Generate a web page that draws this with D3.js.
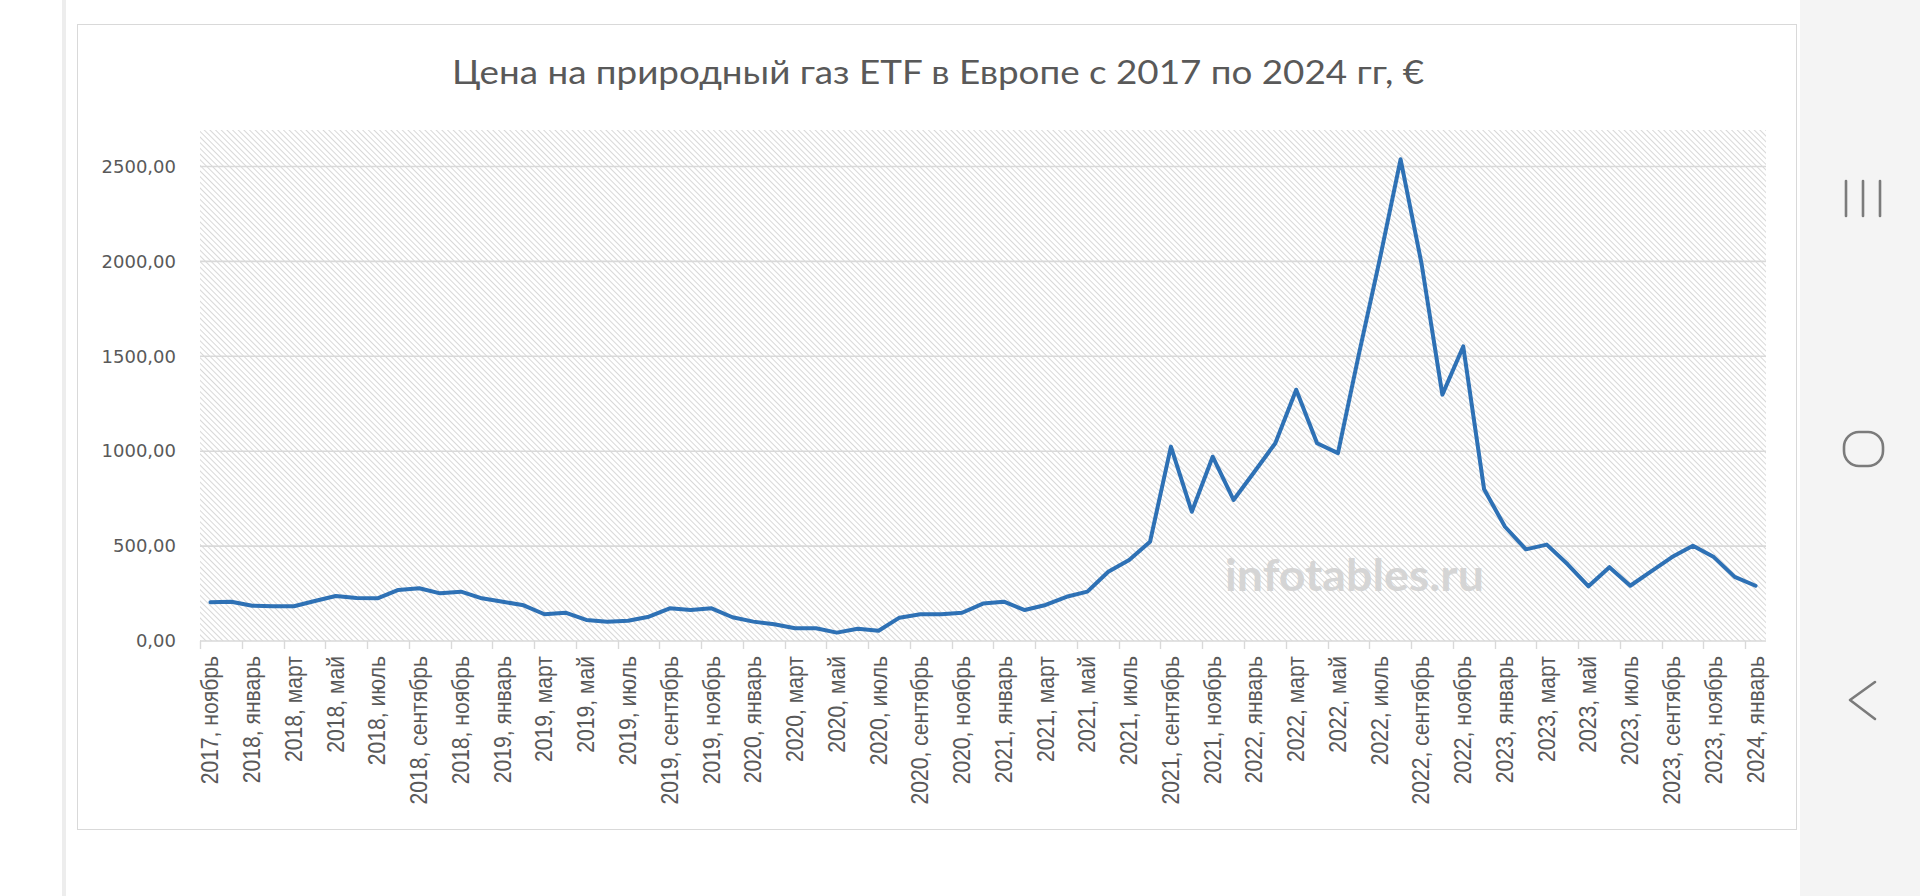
<!DOCTYPE html>
<html>
<head>
    <meta charset='utf-8' />
    <title>Цена на природный газ ETF</title>
    <style>
  body {
    margin: 0;
    background: #fff;
  }
  svg text {
    pointer-events: none;
  }
</style>
</head>
<body>
  <div id="wrapper"></div>

<script src='https://d3js.org/d3.v7.min.js' charset='utf-8'></script>
<script>
  // monthly price, Nov 2017 .. Jan 2024
  const monthNames = ['январь', 'февраль', 'март', 'апрель', 'май', 'июнь',
                      'июль', 'август', 'сентябрь', 'октябрь', 'ноябрь', 'декабрь']
  const startYear = 2017
  const startMonth = 10   // ноябрь
  const prices = [
    204, 207,
    186, 183, 183, 211, 237, 226, 225, 269, 278, 251, 260, 225,
    207, 188, 141, 149, 111, 102, 107, 128, 172, 163, 172, 125,
    102, 88, 67, 67, 44, 65, 54, 123, 141, 141, 149, 197,
    207, 163, 190, 233, 260, 365, 427, 523, 1024, 681, 971, 743,
    892, 1042, 1324, 1042, 990, 1510, 2010, 2538, 1990, 1298, 1552, 799,
    602, 483, 508, 404, 288, 389, 291, 367, 442, 502, 442, 338,
    291
  ]
  const yTicks = [0, 500, 1000, 1500, 2000, 2500]
  const labelStep = 2

  const categories = prices.map((d, i) => {
    const m = startMonth + i
    return (startYear + Math.floor(m / 12)) + ', ' + monthNames[m % 12]
  })
  const data = prices.map((v, i) => ({ cat: categories[i], value: v }))

  const width = 1920
  const height = 896
  const plot = { left: 200, right: 1766, top: 130, bottom: 641 }

  const svg = d3.select('#wrapper')
      .append('svg')
        .attr('width', width)
        .attr('height', height)

  // page frame (screenshot surroundings)
  svg.append('rect')
      .attr('x', 0).attr('y', 0)
      .attr('width', width).attr('height', height)
      .attr('fill', '#fff')
  svg.append('rect')
      .attr('x', 62).attr('y', 0)
      .attr('width', 4).attr('height', height)
      .attr('fill', '#ededed')
  svg.append('rect')
      .attr('x', 1800).attr('y', 0)
      .attr('width', 120).attr('height', height)
      .attr('fill', '#f4f4f4')

  const nav = svg.append('g')
      .attr('fill', 'none')
      .attr('stroke', '#7b7b7b')
      .attr('stroke-width', 2.6)
      .attr('stroke-linecap', 'round')
  ;[1846, 1863, 1880].forEach(x => {
    nav.append('line').attr('x1', x).attr('x2', x).attr('y1', 181).attr('y2', 216)
  })
  nav.append('rect')
      .attr('x', 1844).attr('y', 432)
      .attr('width', 39).attr('height', 34)
      .attr('rx', 15)
  nav.append('path')
      .attr('d', 'M1875,682 L1850,700 L1875,719')
      .attr('stroke-linejoin', 'round')

  // chart box
  svg.append('rect')
      .attr('x', 77.5).attr('y', 24.5)
      .attr('width', 1719).attr('height', 805)
      .attr('fill', '#fff')
      .attr('stroke', '#d9d9d9')

  // hatched plot area
  const defs = svg.append('defs')
  const pat = defs.append('pattern')
      .attr('id', 'hatch')
      .attr('patternUnits', 'userSpaceOnUse')
      .attr('width', 4)
      .attr('height', 4)
      .attr('patternTransform', 'rotate(-45)')
  pat.append('rect')
      .attr('width', 4).attr('height', 4)
      .attr('fill', '#fff')
  pat.append('rect')
      .attr('width', 1).attr('height', 4)
      .attr('fill', '#d8d8d8')

  svg.append('rect')
      .attr('x', plot.left).attr('y', plot.top)
      .attr('width', plot.right - plot.left)
      .attr('height', plot.bottom - plot.top)
      .attr('fill', 'url(#hatch)')

  const x = d3.scaleBand()
      .domain(categories)
      .range([plot.left, plot.right])

  const y = d3.scaleLinear()
      .domain([0, 2500])
      .range([plot.bottom, 166.5])

  const fmt = v => d3.format('.2f')(v).replace('.', ',')

  // gridlines
  svg.append('g')
    .selectAll('line')
    .data(yTicks.filter(d => d > 0))
    .enter()
    .append('line')
      .attr('x1', plot.left)
      .attr('x2', plot.right)
      .attr('y1', d => y(d))
      .attr('y2', d => y(d))
      .attr('stroke', '#d9d9d9')
      .attr('stroke-width', 1.6)

  // y axis labels
  const yAxis = svg.append('g')
      .attr('transform', 'translate(176,0)')
      .call(d3.axisLeft(y).tickValues(yTicks).tickFormat(fmt).tickSize(0).tickPadding(0))
  yAxis.select('.domain').remove()
  yAxis.selectAll('text')
      .attr('fill', '#595959')
      .style('font-family', '"DejaVu Sans", sans-serif')
      .style('font-size', '18px')

  // x axis line and ticks
  const tickCats = categories.filter((d, i) => i % labelStep === 0)
  const xAxis = svg.append('g')
      .attr('transform', `translate(0,${plot.bottom})`)
  xAxis.append('line')
      .attr('x1', plot.left).attr('x2', plot.right)
      .attr('stroke', '#d9d9d9')
      .attr('stroke-width', 1.6)
  xAxis.selectAll('line.tick')
    .data(tickCats)
    .enter()
    .append('line')
      .attr('class', 'tick')
      .attr('x1', d => Math.round(x(d)) + 0.5)
      .attr('x2', d => Math.round(x(d)) + 0.5)
      .attr('y1', 0)
      .attr('y2', 8)
      .attr('stroke', '#d9d9d9')
      .attr('stroke-width', 1.4)
  xAxis.selectAll('text')
    .data(tickCats)
    .enter()
    .append('text')
      .attr('transform', d => `translate(${x(d) + x.bandwidth() / 2},15) rotate(-90) scale(0.88,1)`)
      .attr('text-anchor', 'end')
      .attr('dominant-baseline', 'central')
      .attr('fill', '#595959')
      .style('font-family', '"Liberation Sans", Arial, sans-serif')
      .style('font-size', '24px')
      .text(d => d)

  // watermark
  svg.append('text')
      .attr('x', 1225)
      .attr('y', 591)
      .attr('textLength', 259)
      .attr('lengthAdjust', 'spacingAndGlyphs')
      .attr('fill', '#d5d5d5')
      .style('font-family', 'Lato, sans-serif')
      .style('font-weight', 'bold')
      .style('font-size', '44px')
      .text('infotables.ru')

  // price line
  const line = d3.line()
      .x(d => x(d.cat) + x.bandwidth() / 2)
      .y(d => y(d.value))

  svg.append('path')
      .datum(data)
      .attr('fill', 'none')
      .attr('stroke', '#2e71b5')
      .attr('stroke-width', 4)
      .attr('stroke-linejoin', 'round')
      .attr('stroke-linecap', 'round')
      .attr('d', line)

  // title
  svg.append('text')
      .attr('x', 938)
      .attr('y', 84)
      .attr('text-anchor', 'middle')
      .attr('textLength', 972)
      .attr('lengthAdjust', 'spacingAndGlyphs')
      .attr('fill', '#595959')
      .style('font-family', 'Lato, sans-serif')
      .style('font-size', '33px')
      .text('Цена на природный газ ETF в Европе с 2017 по 2024 гг, €')
</script>
</body>
</html>
